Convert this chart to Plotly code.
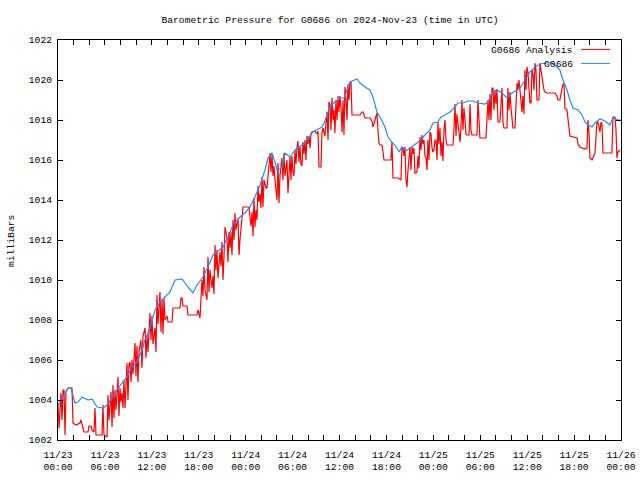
import plotly.graph_objects as go

# ---------------- data ----------------
# G0686 Analysis (red): hours since 2024-11-23 00:00 UTC, pressure in mb
red_hours = [
    0, 0.13, 0.26, 0.38, 0.51, 0.64, 0.77, 0.9, 1.02, 1.28, 1.79, 1.92, 2.3, 2.81, 2.94, 3.07, 3.32, 3.84,
    3.96, 4.22, 4.35, 4.6, 4.73, 4.86, 5.63, 5.75, 5.88, 6.27, 6.39, 6.52, 6.78, 6.91, 7.03, 7.16, 7.29, 7.42,
    7.54, 7.67, 7.8, 7.93, 8.06, 8.18, 8.31, 8.44, 8.57, 8.82, 8.95, 9.08, 9.21, 9.34, 9.46, 9.59, 9.85, 9.97,
    10.1, 10.23, 10.36, 10.61, 10.74, 10.87, 11.13, 11.25, 11.38, 11.51, 11.76, 11.89, 12.02, 12.15, 12.4, 12.53,
    12.66, 12.79, 13.04, 13.17, 13.3, 13.43, 13.55, 13.68, 13.94, 14.07, 14.58, 14.71, 15.6, 15.73, 15.86, 15.98,
    16.5, 16.62, 17.77, 17.9, 18.16, 18.29, 18.41, 18.54, 18.67, 18.8, 19.05, 19.18, 19.31, 19.44, 19.69, 19.82,
    19.95, 20.08, 20.2, 20.33, 20.46, 20.72, 20.84, 20.97, 21.1, 21.23, 21.36, 21.61, 21.74, 21.87, 22.0, 22.12,
    22.25, 22.38, 22.51, 22.63, 22.76, 23.02, 23.15, 23.27, 23.4, 23.53, 23.66, 24.17, 24.42, 24.68, 24.81, 24.94,
    25.06, 25.19, 25.32, 25.45, 25.58, 25.7, 25.83, 25.96, 26.09, 26.21, 26.34, 26.6, 26.73, 26.85, 27.11, 27.24,
    27.37, 27.49, 27.62, 27.75, 27.88, 28.01, 28.13, 28.26, 28.39, 28.64, 28.77, 28.9, 29.03, 29.28, 29.41, 29.54,
    29.67, 29.8, 29.92, 30.05, 30.18, 30.31, 30.43, 30.56, 30.69, 30.82, 30.95, 31.07, 31.2, 31.33, 31.46, 31.59,
    31.71, 31.84, 31.97, 32.1, 32.23, 32.35, 32.48, 32.86, 33.12, 33.25, 33.38, 33.63, 33.76, 33.89, 34.14, 34.27,
    34.4, 34.53, 34.65, 34.78, 34.91, 35.04, 35.17, 35.29, 35.42, 35.55, 35.68, 35.81, 35.93, 36.06, 36.19, 36.32,
    36.45, 36.57, 36.7, 36.83, 36.96, 37.08, 37.21, 37.34, 37.47, 37.6, 38.36, 38.62, 38.87, 39.0, 39.26, 39.9,
    40.15, 40.28, 40.54, 40.79, 40.92, 41.05, 41.18, 41.43, 41.56, 41.69, 42.46, 42.58, 42.71, 42.84, 43.48, 43.73,
    43.86, 43.99, 44.12, 44.25, 44.37, 44.5, 44.63, 44.76, 44.88, 45.01, 45.14, 45.27, 45.4, 45.52, 45.65, 45.91,
    46.04, 46.16, 46.29, 46.42, 46.55, 46.68, 46.8, 46.93, 47.06, 47.19, 47.31, 47.44, 47.57, 47.7, 47.83, 47.95,
    48.08, 48.21, 48.34, 48.47, 48.59, 48.72, 48.85, 48.98, 49.1, 49.23, 49.36, 49.49, 49.62, 49.74, 50.51, 50.64,
    50.77, 50.9, 51.02, 51.15, 51.28, 51.41, 51.53, 51.66, 51.79, 51.92, 52.05, 52.17, 52.3, 52.56, 52.69, 52.81,
    52.94, 53.58, 53.71, 53.84, 53.96, 54.73, 54.86, 54.99, 55.12, 55.24, 55.37, 55.5, 55.63, 55.75, 55.88, 56.01,
    56.14, 56.27, 56.52, 56.65, 56.78, 56.91, 57.03, 57.42, 57.54, 57.67, 57.8, 57.93, 58.06, 58.18, 58.44, 58.57,
    58.7, 58.82, 58.95, 59.08, 59.21, 59.34, 59.46, 59.59, 59.72, 59.85, 59.97, 60.1, 60.23, 60.36, 60.49, 60.61,
    60.74, 60.87, 61.0, 61.13, 61.25, 61.51, 61.64, 61.76, 61.89, 62.02, 62.15, 62.28, 62.53, 63.55, 63.81, 63.94,
    64.19, 64.32, 64.58, 64.71, 64.83, 65.09, 65.22, 65.35, 65.47, 66.37, 66.5, 66.75, 67.39, 67.65, 67.77, 67.9,
    68.03, 68.29, 68.41, 68.67, 68.93, 69.05, 69.31, 69.44, 69.57, 69.69, 70.84, 70.97, 71.23, 71.36, 71.48, 71.61,
    71.87,
]
red_mbar = [
    1003.75, 1002.6, 1003.5, 1004.35, 1003.0, 1004.5, 1004.5, 1002.25, 1004.4, 1004.6, 1004.6, 1002.85, 1002.75,
    1002.85, 1003.0, 1002.8, 1002.4, 1002.4, 1002.7, 1002.7, 1002.5, 1002.4, 1003.6, 1002.25, 1002.25, 1003.75,
    1002.25, 1002.15, 1004.25, 1003.0, 1004.4, 1002.65, 1004.75, 1003.1, 1004.5, 1003.5, 1004.4, 1005.15, 1003.2,
    1004.6, 1003.9, 1004.35, 1003.6, 1005.0, 1003.6, 1005.85, 1004.0, 1005.8, 1005.9, 1004.9, 1006.0, 1005.3,
    1006.85, 1005.2, 1006.7, 1004.9, 1006.4, 1007.0, 1005.6, 1007.2, 1007.6, 1006.1, 1007.25, 1006.4, 1008.35,
    1007.0, 1008.2, 1006.8, 1007.6, 1006.4, 1009.25, 1007.8, 1009.4, 1007.4, 1009.0, 1007.3, 1009.1, 1008.0,
    1008.2, 1007.9, 1007.9, 1008.6, 1008.6, 1009.1, 1009.1, 1008.7, 1008.7, 1008.25, 1008.25, 1008.5, 1008.1,
    1009.0, 1010.0, 1009.2, 1010.65, 1009.5, 1009.0, 1011.15, 1009.4, 1010.5, 1009.6, 1010.2, 1009.3, 1011.75,
    1010.5, 1011.5, 1010.1, 1011.4, 1010.7, 1011.9, 1010.0, 1011.2, 1012.65, 1012.1, 1010.9, 1012.4, 1011.6,
    1012.4, 1011.25, 1013.0, 1012.0, 1013.35, 1012.5, 1013.1, 1011.25, 1012.0, 1012.5, 1013.35, 1013.65, 1013.65,
    1013.65, 1012.7, 1013.4, 1012.2, 1014.1, 1012.65, 1013.5, 1013.0, 1014.7, 1013.9, 1014.3, 1013.6, 1015.15,
    1013.65, 1015.0, 1014.6, 1014.6, 1015.15, 1016.35, 1015.4, 1016.3, 1015.2, 1015.7, 1015.0, 1014.6, 1014.0,
    1015.85, 1013.85, 1015.2, 1016.1, 1015.0, 1016.35, 1015.2, 1016.0, 1014.35, 1015.5, 1016.2, 1015.0, 1016.2,
    1015.4, 1015.2, 1016.5, 1015.8, 1016.6, 1016.95, 1015.9, 1016.7, 1015.8, 1015.7, 1016.9, 1016.3, 1017.0,
    1016.0, 1017.2, 1016.8, 1017.2, 1016.6, 1017.3, 1017.4, 1017.45, 1017.3, 1017.45, 1015.65, 1015.65, 1017.4,
    1017.6, 1017.2, 1017.9, 1018.4, 1017.0, 1018.9, 1018.8, 1017.5, 1019.1, 1018.0, 1018.5, 1017.35, 1019.0,
    1018.0, 1019.2, 1018.4, 1019.2, 1018.6, 1017.4, 1019.0, 1017.25, 1019.65, 1019.0, 1018.0, 1019.75, 1019.0,
    1019.9, 1019.9, 1018.25, 1018.25, 1018.25, 1018.4, 1018.4, 1018.1, 1018.1, 1017.95, 1017.65, 1018.0, 1018.35,
    1017.5, 1016.85, 1016.75, 1016.75, 1016.4, 1016.0, 1016.0, 1016.0, 1016.9, 1015.1, 1015.1, 1015.0, 1015.0,
    1016.6, 1016.6, 1016.2, 1016.65, 1015.0, 1014.65, 1015.5, 1016.3, 1016.65, 1015.5, 1016.65, 1016.3, 1016.6,
    1015.35, 1015.4, 1016.2, 1015.6, 1017.15, 1016.5, 1017.25, 1016.8, 1017.0, 1016.2, 1016.1, 1015.5, 1017.0,
    1016.0, 1017.4, 1017.3, 1016.6, 1016.4, 1016.5, 1017.0, 1017.0, 1016.0, 1017.9, 1016.8, 1017.6, 1016.2,
    1016.9, 1015.95, 1017.5, 1018.0, 1017.0, 1016.75, 1016.75, 1017.5, 1018.8, 1017.2, 1018.3, 1017.8, 1017.3,
    1016.9, 1017.6, 1019.0, 1017.5, 1018.6, 1018.0, 1017.3, 1017.25, 1017.25, 1018.8, 1017.5, 1017.25, 1017.25,
    1019.0, 1018.0, 1017.1, 1017.1, 1018.5, 1019.0, 1018.0, 1019.3, 1018.0, 1019.6, 1019.6, 1018.5, 1019.5,
    1018.8, 1019.55, 1017.9, 1017.9, 1018.8, 1019.6, 1017.9, 1017.6, 1017.6, 1019.6, 1018.5, 1019.4, 1018.6,
    1017.8, 1017.6, 1017.6, 1018.8, 1019.85, 1019.5, 1020.0, 1019.5, 1019.0, 1018.4, 1019.2, 1018.3, 1020.5,
    1019.5, 1020.65, 1020.4, 1019.6, 1018.85, 1018.85, 1020.5, 1020.3, 1019.5, 1020.85, 1020.5, 1019.0, 1019.0,
    1020.85, 1020.5, 1020.0, 1019.9, 1019.5, 1019.4, 1019.35, 1019.35, 1019.2, 1019.0, 1019.0, 1019.3, 1019.8,
    1019.8, 1018.6, 1018.5, 1018.0, 1017.5, 1017.2, 1017.1, 1016.8, 1016.65, 1016.55, 1016.6, 1018.0, 1017.4,
    1016.1, 1016.0, 1016.15, 1016.35, 1017.9, 1017.9, 1017.4, 1017.9, 1017.8, 1016.35, 1016.35, 1018.15, 1018.15,
    1017.5, 1016.1, 1016.4, 1016.5,
]

# G0686 observations (blue)
blue_hours = [
    0, 0.64, 1.28, 1.66, 2.17, 2.56, 3.07, 3.84, 4.35, 4.99, 5.75, 6.27, 6.91, 7.54, 8.18, 8.82, 9.46, 10.1,
    10.74, 11.13, 11.76, 12.4, 13.04, 13.68, 14.32, 14.96, 15.86, 16.62, 17.26, 17.77, 18.54, 19.18, 19.82, 20.33,
    21.1, 21.74, 22.38, 23.27, 23.91, 24.55, 25.19, 25.83, 26.47, 26.85, 27.37, 27.75, 28.01, 28.64, 29.03, 29.67,
    30.31, 31.2, 31.84, 32.61, 33.76, 34.14, 34.78, 35.42, 36.06, 36.7, 37.08, 37.6, 38.24, 38.62, 39.26, 39.9,
    40.28, 40.79, 41.18, 41.82, 42.2, 42.71, 43.35, 43.61, 43.99, 44.5, 45.27, 45.91, 46.55, 46.93, 47.57, 47.95,
    48.59, 48.98, 49.49, 50.13, 50.77, 51.15, 51.79, 52.43, 53.07, 53.71, 54.6, 54.99, 55.5, 56.14, 56.78, 57.42,
    58.06, 58.7, 59.08, 59.72, 60.36, 61.0, 61.64, 62.53, 63.17, 63.81, 64.19, 64.58, 65.09, 65.47, 65.86, 66.5,
    67.01, 67.39, 67.77, 68.29, 68.67, 69.31, 69.95, 70.59, 70.97, 71.61, 72.0,
]
blue_mbar = [
    1003.75, 1004.2, 1004.6, 1004.6, 1003.85, 1003.9, 1004.15, 1004.0, 1004.05, 1003.65, 1003.6, 1003.75, 1004.15,
    1004.5, 1004.85, 1005.15, 1005.65, 1005.9, 1006.5, 1007.0, 1007.6, 1008.5, 1008.9, 1009.15, 1009.4, 1010.0,
    1010.05, 1009.65, 1009.35, 1009.75, 1010.15, 1010.65, 1011.25, 1011.4, 1011.65, 1012.15, 1012.75, 1013.15,
    1013.35, 1013.65, 1014.15, 1014.75, 1015.5, 1016.1, 1016.35, 1015.9, 1015.5, 1015.6, 1016.35, 1016.15, 1016.5,
    1016.75, 1017.0, 1017.4, 1017.65, 1017.95, 1018.7, 1018.9, 1019.1, 1019.1, 1019.75, 1019.95, 1020.05, 1019.85,
    1019.65, 1019.5, 1019.15, 1018.4, 1018.15, 1017.65, 1017.15, 1016.9, 1016.6, 1016.4, 1016.65, 1016.45, 1016.65,
    1016.85, 1017.05, 1017.25, 1017.5, 1017.85, 1017.9, 1018.15, 1018.25, 1018.4, 1018.65, 1018.85, 1018.85,
    1018.95, 1018.95, 1018.85, 1018.8, 1018.9, 1019.35, 1019.5, 1019.35, 1019.1, 1019.35, 1019.5, 1019.6, 1020.0,
    1020.4, 1020.65, 1020.8, 1020.85, 1020.85, 1020.65, 1020.5, 1020.0, 1019.5, 1019.0, 1018.6, 1018.5, 1018.25,
    1017.9, 1017.75, 1017.65, 1017.85, 1018.05, 1017.95, 1017.75, 1018.1, 1018.0, 1018.0,
]

x_tick_hours = list(range(0, 73, 2))
x_tick_labels = [
    (f"11/{23 + h // 24}<br>{h % 24:02d}:00" if h % 6 == 0 else "") for h in x_tick_hours
]
y_tick_values = list(range(1002, 1023, 2))
y_tick_labels = [str(v) for v in y_tick_values]

title_text = "Barometric Pressure for G0686 on 2024-Nov-23 (time in UTC)"
series_names = ["G0686 Analysis", "G0686"]
series_colors = ["#ff0000", "#1e8cff"]

FONT = "Liberation Mono, DejaVu Sans Mono, monospace"
FS = 9.7

# ---------------- figure ----------------
fig = go.Figure()
fig.add_trace(go.Scatter(x=red_hours, y=red_mbar, mode="lines", name=series_names[0],
                         line=dict(color=series_colors[0], width=1.2), showlegend=False))
fig.add_trace(go.Scatter(x=blue_hours, y=blue_mbar, mode="lines", name=series_names[1],
                         line=dict(color=series_colors[1], width=1.2), showlegend=False))

axis_common = dict(showline=True, linecolor="black", linewidth=1, mirror="ticks",
                   ticks="inside", ticklen=5, tickcolor="black", tickwidth=1,
                   showgrid=False, zeroline=False, automargin=False,
                   tickfont=dict(family=FONT, size=FS, color="black"))

fig.update_xaxes(range=[0, 72], tickmode="array", tickvals=x_tick_hours,
                 ticktext=x_tick_labels, ticklabelstandoff=5, **axis_common)
fig.update_yaxes(range=[1002, 1022], tickmode="array", tickvals=y_tick_values,
                 ticktext=y_tick_labels, ticklabelstandoff=3, **axis_common)

# custom legend (top right, inside)
legend_rows = [0.9745, 0.9395]
for name, color, yy in zip(series_names, series_colors, legend_rows):
    fig.add_annotation(xref="paper", yref="paper", x=0.918, y=yy, text=name,
                       showarrow=False, xanchor="right", yanchor="middle",
                       font=dict(family=FONT, size=FS, color="black"))
    fig.add_shape(type="line", xref="paper", yref="paper", x0=0.929, x1=0.9805,
                  y0=yy + 0.002, y1=yy + 0.002, line=dict(color=color, width=1))

fig.add_annotation(xref="paper", yref="paper", x=-0.0835, y=0.5, text="milliBars",
                   textangle=-90, showarrow=False, xanchor="center", yanchor="middle",
                   font=dict(family=FONT, size=FS, color="black"))

fig.update_layout(
    width=640, height=480,
    margin=dict(l=58, r=19, t=40, b=40),
    paper_bgcolor="white", plot_bgcolor="white",
    hovermode=False,
    title=dict(text=title_text, x=0.5156, xanchor="center", y=0.9583, yanchor="middle",
               font=dict(family=FONT, size=FS, color="black")),
)

# remove the browser's default 8px body margin so the 640x480 figure fills the window
fig.write_html("out.html", config={"displayModeBar": False, "staticPlot": True},
               post_script="document.body.style.margin='0px';")
